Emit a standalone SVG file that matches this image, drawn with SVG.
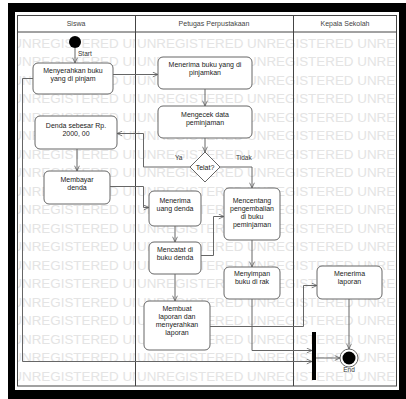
<svg xmlns="http://www.w3.org/2000/svg" width="406" height="399" viewBox="0 0 406 399">
  <style>
    .lbl { font-family: "Liberation Sans", Arial, sans-serif; font-size: 7px; fill: #222; text-anchor: middle; }
    .hdr { font-family: "Liberation Sans", Arial, sans-serif; font-size: 7px; fill: #444; text-anchor: middle; }
    .small { font-family: "Liberation Sans", Arial, sans-serif; font-size: 6.5px; fill: #333; }
    .wm { font-family: "Liberation Sans", Arial, sans-serif; font-size: 13.4px; fill: #e4e4e4; }
    .act { fill: #fff; stroke: #666; stroke-width: 1; }
    .lane { fill: none; stroke: #444; stroke-width: 1; }
    .edge { fill: none; stroke: #666; stroke-width: 1; marker-end: url(#arrow); }
  </style>
  <defs>
    <marker id="arrow" viewBox="0 0 8 8" refX="7.5" refY="4" markerWidth="6" markerHeight="6" orient="auto" markerUnits="userSpaceOnUse">
      <path d="M0.5,0.8 L7.5,4 L0.5,7.2" fill="none" stroke="#555" stroke-width="1"/>
    </marker>
    <clipPath id="clipLeft"><rect x="17" y="32" width="118" height="354"/></clipPath>
    <clipPath id="clipRight"><rect x="135" y="32" width="262" height="354"/></clipPath>
    <text id="wmL" class="wm" x="12.3" y="0">UNREGISTERED UNREGISTERED</text>
    <text id="wmR" class="wm" x="137" y="0">UNREGISTERED UNREGISTERED UNREGISTERED</text>
  </defs>

  <!-- page and heavy black border -->
  <rect x="0" y="0" width="406" height="399" fill="#fff"/>
  <path d="M8,3 H406 V399 H8 Z M15,12 V390 H399 V12 Z" fill="#000" fill-rule="evenodd"/>

  <!-- watermark rows -->
  <g id="watermark">
    <g clip-path="url(#clipLeft)">
      <use href="#wmL" y="47.8"/><use href="#wmL" y="66.3"/><use href="#wmL" y="84.8"/><use href="#wmL" y="103.3"/>
      <use href="#wmL" y="121.8"/><use href="#wmL" y="140.3"/><use href="#wmL" y="158.8"/><use href="#wmL" y="177.3"/>
      <use href="#wmL" y="195.8"/><use href="#wmL" y="214.3"/><use href="#wmL" y="232.8"/><use href="#wmL" y="251.3"/>
      <use href="#wmL" y="269.8"/><use href="#wmL" y="288.3"/><use href="#wmL" y="306.8"/><use href="#wmL" y="325.3"/>
      <use href="#wmL" y="343.8"/><use href="#wmL" y="362.3"/><use href="#wmL" y="380.8"/>
    </g>
    <g clip-path="url(#clipRight)">
      <use href="#wmR" y="47.8"/><use href="#wmR" y="66.3"/><use href="#wmR" y="84.8"/><use href="#wmR" y="103.3"/>
      <use href="#wmR" y="121.8"/><use href="#wmR" y="140.3"/><use href="#wmR" y="158.8"/><use href="#wmR" y="177.3"/>
      <use href="#wmR" y="195.8"/><use href="#wmR" y="214.3"/><use href="#wmR" y="232.8"/><use href="#wmR" y="251.3"/>
      <use href="#wmR" y="269.8"/><use href="#wmR" y="288.3"/><use href="#wmR" y="306.8"/><use href="#wmR" y="325.3"/>
      <use href="#wmR" y="343.8"/><use href="#wmR" y="362.3"/><use href="#wmR" y="380.8"/>
    </g>
  </g>

  <!-- swimlanes -->
  <g id="lanes">
    <rect class="lane" x="17.5" y="15.5" width="379" height="370.5"/>
    <line class="lane" x1="17.5" y1="32" x2="396.5" y2="32"/>
    <line class="lane" x1="135.5" y1="15.5" x2="135.5" y2="386"/>
    <line class="lane" x1="293.5" y1="15.5" x2="293.5" y2="386"/>
    <text class="hdr" x="76" y="26">Siswa</text>
    <text class="hdr" x="214" y="26">Petugas Perpustakaan</text>
    <text class="hdr" x="345" y="26">Kepala Sekolah</text>
  </g>

  <!-- connectors -->
  <g id="connectors">
    <path class="edge" d="M75,48 V63"/>
    <path class="edge" d="M113,74.5 H158"/>
    <path class="edge" d="M205,89 V106"/>
    <path class="edge" d="M205,138 V152"/>
    <path class="edge" d="M190,167 H143.5 V133.5 H117"/>
    <path class="edge" d="M220,167 H252 V188"/>
    <path class="edge" d="M77,149 V171"/>
    <path class="edge" d="M110,186.5 H143.5 V207.5 H149"/>
    <path class="edge" d="M175,226 V242"/>
    <path class="edge" d="M201,255.5 H213.5 V216.5 H224"/>
    <path class="edge" d="M252,240 V267"/>
    <path class="edge" d="M175,274 V301"/>
    <path class="edge" d="M252,299 V350.5 H312"/>
    <path class="edge" d="M210,326.5 H303.5 V285.5 H317"/>
    <path class="edge" d="M33,78.5 H22.5 V361.5 H312"/>
    <path class="edge" d="M349,299 V349"/>
    <path class="edge" d="M316,358 H340"/>
    <text class="small" x="175" y="160">Ya</text>
    <text class="small" x="236" y="160">Tidak</text>
  </g>

  <!-- initial node -->
  <g id="start">
    <circle cx="75" cy="42" r="6" fill="#000"/>
    <text class="small" x="78" y="56">Start</text>
  </g>

  <g id="menyerahkan">
    <rect class="act" x="33" y="63" width="80" height="31" rx="5"/>
    <text class="lbl" x="73" y="72.5">Menyerahkan buku</text>
    <text class="lbl" x="73" y="80.5">yang di pinjam</text>
  </g>

  <g id="menerima-buku">
    <rect class="act" x="158" y="57" width="94" height="32" rx="5"/>
    <text class="lbl" x="205" y="67">Menerima buku yang di</text>
    <text class="lbl" x="205" y="75">pinjamkan</text>
  </g>

  <g id="mengecek">
    <rect class="act" x="158" y="106" width="94" height="32" rx="5"/>
    <text class="lbl" x="205" y="117">Mengecek data</text>
    <text class="lbl" x="205" y="125">peminjaman</text>
  </g>

  <g id="telat">
    <path d="M205,152 L220,167 L205,182 L190,167 Z" fill="#fff" stroke="#666" stroke-width="1"/>
    <text class="lbl" x="205" y="169.5">Telat?</text>
  </g>

  <g id="denda">
    <rect class="act" x="35" y="116" width="82" height="33" rx="5"/>
    <text class="lbl" x="76" y="127.5">Denda sebesar Rp.</text>
    <text class="lbl" x="76" y="135.5">2000, 00</text>
  </g>

  <g id="membayar">
    <rect class="act" x="44" y="171" width="66" height="33" rx="5"/>
    <text class="lbl" x="77" y="181.5">Membayar</text>
    <text class="lbl" x="77" y="189.5">denda</text>
  </g>

  <g id="menerima-uang">
    <rect class="act" x="149" y="191" width="52" height="35" rx="5"/>
    <text class="lbl" x="175" y="202.5">Menerima</text>
    <text class="lbl" x="175" y="210.5">uang denda</text>
  </g>

  <g id="mencentang">
    <rect class="act" x="224" y="188" width="56" height="52" rx="5"/>
    <text class="lbl" x="252" y="202.5">Mencentang</text>
    <text class="lbl" x="252" y="210.5">pengembalian</text>
    <text class="lbl" x="252" y="218.5">di buku</text>
    <text class="lbl" x="252" y="226.5">peminjaman</text>
  </g>

  <g id="mencatat">
    <rect class="act" x="149" y="242" width="52" height="32" rx="5"/>
    <text class="lbl" x="175" y="251.5">Mencatat di</text>
    <text class="lbl" x="175" y="259.5">buku denda</text>
  </g>

  <g id="menyimpan">
    <rect class="act" x="224" y="267" width="56" height="32" rx="5"/>
    <text class="lbl" x="252" y="275.5">Menyimpan</text>
    <text class="lbl" x="252" y="283.5">buku di rak</text>
  </g>

  <g id="membuat">
    <rect class="act" x="144" y="301" width="66" height="49" rx="5"/>
    <text class="lbl" x="177" y="310.5">Membuat</text>
    <text class="lbl" x="177" y="318.5">laporan dan</text>
    <text class="lbl" x="177" y="326.5">menyerahkan</text>
    <text class="lbl" x="177" y="334.5">laporan</text>
  </g>

  <g id="menerima-laporan">
    <rect class="act" x="317" y="266" width="65" height="33" rx="5"/>
    <text class="lbl" x="349.5" y="275.5">Menerima</text>
    <text class="lbl" x="349.5" y="284">laporan</text>
  </g>

  <!-- join bar -->
  <g id="join">
    <rect x="312" y="332" width="4" height="48" fill="#000"/>
  </g>

  <!-- final node -->
  <g id="end">
    <circle cx="349" cy="358" r="9" fill="#fff" stroke="#666" stroke-width="1"/>
    <circle cx="349" cy="358" r="6.5" fill="#000"/>
    <text class="small" x="349" y="372" text-anchor="middle" font-size="5.5">End</text>
  </g>
</svg>
